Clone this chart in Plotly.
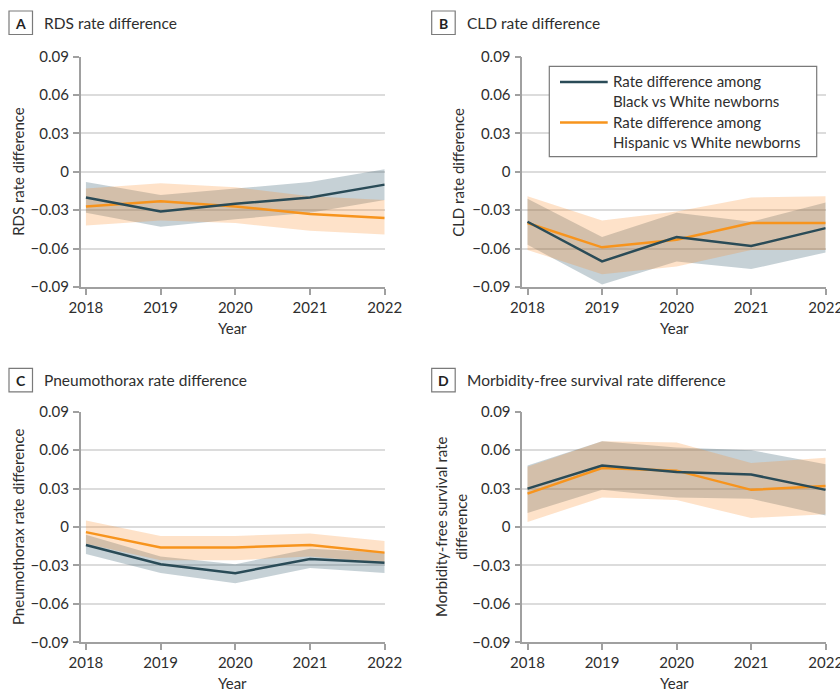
import plotly.graph_objects as go
from plotly.subplots import make_subplots

# ---- data -------------------------------------------------------------
years = [2018, 2019, 2020, 2021, 2022]
year_labels = ["2018", "2019", "2020", "2021", "2022"]
y_ticks = [-0.09, -0.06, -0.03, 0, 0.03, 0.06, 0.09]
y_tick_labels = ["\u22120.09", "\u22120.06", "\u22120.03", "0", "0.03", "0.06", "0.09"]

# RDS
rds_black = [-0.020, -0.031, -0.025, -0.020, -0.010]
rds_black_lo = [-0.032, -0.043, -0.037, -0.032, -0.022]
rds_black_hi = [-0.008, -0.018, -0.013, -0.008, 0.002]
rds_hisp = [-0.027, -0.023, -0.027, -0.033, -0.036]
rds_hisp_lo = [-0.042, -0.038, -0.040, -0.046, -0.049]
rds_hisp_hi = [-0.013, -0.009, -0.012, -0.019, -0.022]

# CLD
cld_black = [-0.039, -0.070, -0.051, -0.058, -0.044]
cld_black_lo = [-0.057, -0.088, -0.070, -0.076, -0.063]
cld_black_hi = [-0.021, -0.051, -0.032, -0.039, -0.024]
cld_hisp = [-0.040, -0.059, -0.053, -0.040, -0.040]
cld_hisp_lo = [-0.061, -0.080, -0.074, -0.061, -0.061]
cld_hisp_hi = [-0.019, -0.038, -0.031, -0.020, -0.019]

# Pneumothorax
ptx_black = [-0.014, -0.029, -0.036, -0.025, -0.028]
ptx_black_lo = [-0.021, -0.036, -0.044, -0.032, -0.036]
ptx_black_hi = [-0.006, -0.023, -0.029, -0.017, -0.020]
ptx_hisp = [-0.004, -0.016, -0.016, -0.014, -0.020]
ptx_hisp_lo = [-0.013, -0.026, -0.026, -0.023, -0.028]
ptx_hisp_hi = [0.005, -0.007, -0.007, -0.005, -0.011]

# Morbidity-free survival
mfs_black = [0.030, 0.048, 0.043, 0.041, 0.029]
mfs_black_lo = [0.011, 0.029, 0.023, 0.022, 0.009]
mfs_black_hi = [0.048, 0.067, 0.062, 0.060, 0.049]
mfs_hisp = [0.026, 0.046, 0.044, 0.029, 0.032]
mfs_hisp_lo = [0.004, 0.023, 0.021, 0.007, 0.010]
mfs_hisp_hi = [0.047, 0.067, 0.066, 0.050, 0.054]

panels = [
    ("A", "RDS rate difference", "RDS rate difference",
     rds_black, rds_black_lo, rds_black_hi, rds_hisp, rds_hisp_lo, rds_hisp_hi),
    ("B", "CLD rate difference", "CLD rate difference",
     cld_black, cld_black_lo, cld_black_hi, cld_hisp, cld_hisp_lo, cld_hisp_hi),
    ("C", "Pneumothorax rate difference", "Pneumothorax rate difference",
     ptx_black, ptx_black_lo, ptx_black_hi, ptx_hisp, ptx_hisp_lo, ptx_hisp_hi),
    ("D", "Morbidity-free survival rate difference", "Morbidity-free survival rate<br>difference",
     mfs_black, mfs_black_lo, mfs_black_hi, mfs_hisp, mfs_hisp_lo, mfs_hisp_hi),
]

legend_names = ["Rate difference among<br>Black vs White newborns",
                "Rate difference among<br>Hispanic vs White newborns"]

# ---- styling ----------------------------------------------------------
W, H = 840, 692
FONT = "Lato, Roboto, sans-serif"
TEXT = "#2e2e2e"
BLACK_LINE = "#2a4b57"
HISP_LINE = "#f7941d"
BLACK_BAND = "rgba(45,85,105,0.27)"
HISP_BAND = "rgba(250,140,40,0.25)"
AXIS = "#a0a0a0"
GRID = "#dcdcdc"
FS = 15

# plot-area geometry in pixels: (left, right, top, bottom)
boxes = [(80.7, 384.7, 56.7, 287.0),
         (522.3, 825.7, 56.7, 287.0),
         (80.7, 384.7, 411.7, 642.3),
         (522.3, 825.7, 411.7, 642.3)]

def px_x(v):
    return v / W

def px_y(v):
    return 1 - v / H

fig = make_subplots(rows=2, cols=2)

shapes = []
annotations = []

for i, (letter, title, ytitle, b, blo, bhi, h, hlo, hhi) in enumerate(panels):
    row, col = i // 2 + 1, i % 2 + 1
    band_x = years + years[::-1]
    fig.add_trace(go.Scatter(x=band_x, y=bhi + blo[::-1], fill="toself",
                             fillcolor=BLACK_BAND, line=dict(width=0),
                             mode="lines", hoverinfo="skip", showlegend=False),
                  row=row, col=col)
    fig.add_trace(go.Scatter(x=band_x, y=hhi + hlo[::-1], fill="toself",
                             fillcolor=HISP_BAND, line=dict(width=0),
                             mode="lines", hoverinfo="skip", showlegend=False),
                  row=row, col=col)
    fig.add_trace(go.Scatter(x=years, y=h, mode="lines", name=legend_names[1],
                             line=dict(color=HISP_LINE, width=2.5), showlegend=False),
                  row=row, col=col)
    fig.add_trace(go.Scatter(x=years, y=b, mode="lines", name=legend_names[0],
                             line=dict(color=BLACK_LINE, width=2.5), showlegend=False),
                  row=row, col=col)

    l, r, t, btm = boxes[i]
    xa = "xaxis" if i == 0 else f"xaxis{i + 1}"
    ya = "yaxis" if i == 0 else f"yaxis{i + 1}"
    fig.layout[xa].update(domain=[px_x(l), px_x(r)])
    fig.layout[ya].update(domain=[px_y(btm), px_y(t)])

    # panel letter box and title
    bx0 = 9 if col == 1 else 431.7
    by0 = 11 if row == 1 else 368.3
    shapes.append(dict(type="rect", xref="paper", yref="paper",
                       x0=px_x(bx0), x1=px_x(bx0 + 23.5),
                       y0=px_y(by0), y1=px_y(by0 + 23.5),
                       line=dict(color="#7a7a7a", width=1.2), fillcolor="white"))
    annotations.append(dict(xref="paper", yref="paper", x=px_x(bx0 + 11.75),
                            y=px_y(by0 + 12), text=f"<b>{letter}</b>", showarrow=False,
                            xanchor="center", yanchor="middle",
                            font=dict(family=FONT, size=14, color="#222")))
    annotations.append(dict(xref="paper", yref="paper", x=px_x(bx0 + 33),
                            y=px_y(by0 + 12), text=title, showarrow=False,
                            xanchor="left", yanchor="middle",
                            font=dict(family=FONT, size=FS + 0.5, color=TEXT)))

    # axis titles
    annotations.append(dict(xref="paper", yref="paper", x=px_x((l + r) / 2),
                            y=px_y(btm + 41), text="Year", showarrow=False,
                            xanchor="center", yanchor="middle",
                            font=dict(family=FONT, size=FS, color=TEXT)))
    ytx = 18 if col == 1 else 458
    if letter == "D":
        ytx = 451
    annotations.append(dict(xref="paper", yref="paper", x=px_x(ytx),
                            y=px_y((t + btm) / 2), text=ytitle, showarrow=False,
                            textangle=-90, xanchor="center", yanchor="middle",
                            font=dict(family=FONT, size=FS, color=TEXT)))

fig.update_xaxes(range=[2017.93, 2022.0], tickmode="array", tickvals=years,
                 ticktext=year_labels, ticks="outside", ticklen=6, tickwidth=1.5,
                 tickcolor=AXIS, showline=True, linecolor=AXIS, linewidth=1.5,
                 showgrid=False, zeroline=False, automargin=False,
                 ticklabeloverflow="allow",
                 tickfont=dict(family=FONT, size=FS, color=TEXT))
fig.update_yaxes(range=[-0.09, 0.09], tickmode="array", tickvals=y_ticks,
                 ticktext=y_tick_labels, ticks="outside", ticklen=6, tickwidth=1.5,
                 tickcolor=AXIS, showline=True, linecolor=AXIS, linewidth=1.5,
                 showgrid=True, gridcolor=GRID, gridwidth=1.5, zeroline=False,
                 automargin=False, ticklabelstandoff=1,
                 tickfont=dict(family=FONT, size=FS, color=TEXT))

# legend drawn inside panel B
lg_l, lg_r, lg_t, lg_b = 549.3, 816.7, 66.3, 156.7
shapes.append(dict(type="rect", xref="paper", yref="paper",
                   x0=px_x(lg_l), x1=px_x(lg_r), y0=px_y(lg_b), y1=px_y(lg_t),
                   line=dict(color="#7a7a7a", width=1.2), fillcolor="white"))
for k, (name, color) in enumerate(zip(legend_names, [BLACK_LINE, HISP_LINE])):
    yc = 82 + 40.5 * k
    shapes.append(dict(type="line", xref="paper", yref="paper",
                       x0=px_x(560), x1=px_x(607.7), y0=px_y(yc), y1=px_y(yc),
                       line=dict(color=color, width=2.5)))
    annotations.append(dict(xref="paper", yref="paper", x=px_x(611), y=px_y(yc - 12),
                            text=name, showarrow=False, xanchor="left", yanchor="top",
                            align="left",
                            font=dict(family=FONT, size=FS, color=TEXT)))

fig.update_layout(width=W, height=H, margin=dict(l=0, r=0, t=0, b=0),
                  paper_bgcolor="white", plot_bgcolor="white",
                  shapes=shapes, annotations=annotations, showlegend=False,
                  font=dict(family=FONT, color=TEXT))

fig.write_html("out.html")
